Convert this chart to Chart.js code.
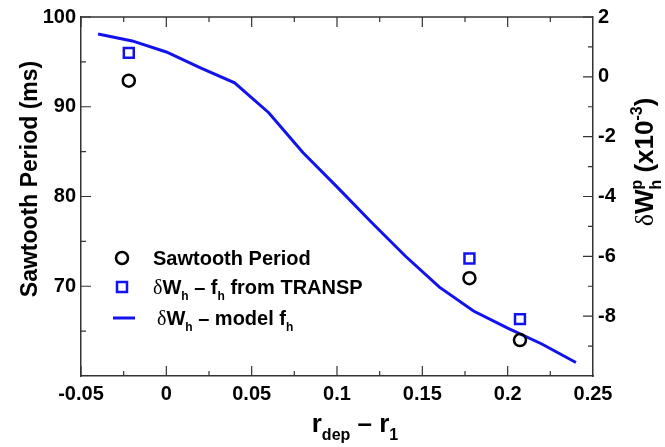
<!DOCTYPE html>
<html>
<head>
<meta charset="utf-8">
<script src="https://cdn.jsdelivr.net/npm/chart.js@4.4.1/dist/chart.umd.min.js"></script>
<style>
  html, body { margin: 0; background: #fff; }
  #wrap { width: 665px; height: 447px; position: relative; }
</style>
</head>
<body>
<div id="wrap"><canvas id="sawtooth"></canvas></div>
<script>
// sawtooth period (left axis) and fast-ion dW term (right axis) vs r_dep - r_1
const sawX = [-0.022, 0.1776, 0.2072];
const sawPeriod = [92.9, 70.9, 64.0];               // ms
const transpX = [-0.022, 0.1776, 0.2072];
const transpDW = [0.8, -6.07, -8.1];                // x10^-3
const modelX = [-0.04, -0.02, 0, 0.02, 0.04, 0.06, 0.08, 0.1, 0.12, 0.14, 0.16, 0.18, 0.2, 0.22, 0.24];
const modelDW = [1.43, 1.2, 0.83, 0.3, -0.2, -1.2, -2.53, -3.68, -4.85, -5.99, -7.03, -7.83, -8.4, -8.93, -9.55];

const xTicks = [-0.05, 0, 0.05, 0.1, 0.15, 0.2, 0.25];
const leftTicks = [70, 80, 90, 100];
const rightTicks = [-8, -6, -4, -2, 0, 2];

const blue = '#1212ee';
const axisCol = '#333';
const family = '"Liberation Sans", Arial, Helvetica, sans-serif';

function fnt(size, weight) {
  return (weight || 'bold') + ' ' + size + 'px ' + family;
}

// parts: [text, kind] kind = n | sub | sup | g (greek) ; 'stack' as 3rd item -> no advance
function richWidth(ctx, parts, size) {
  let w = 0;
  parts.forEach(p => {
    ctx.font = partFont(p[1], size);
    if (!p[2]) w += ctx.measureText(p[0]).width;
  });
  return w;
}
function partFont(kind, size) {
  if (kind === 'sub' || kind === 'sup') return fnt(Math.round(size * 0.62));
  if (kind === 'g') return 'normal ' + size + 'px "Liberation Serif", "Times New Roman", serif';
  return fnt(size);
}
function drawRich(ctx, parts, x, y, size) {
  let cx = x;
  parts.forEach(p => {
    ctx.font = partFont(p[1], size);
    const dy = p[1] === 'sub' ? size * 0.3 : p[1] === 'sup' ? -size * 0.42 : 0;
    ctx.fillText(p[0], cx, y + dy);
    if (!p[2]) cx += ctx.measureText(p[0]).width;
  });
}

const decor = {
  id: 'decor',
  afterDraw(chart) {
    const {ctx, chartArea: a} = chart;
    const sx = chart.scales.x, sy = chart.scales.y, s2 = chart.scales.y2;
    ctx.save();
    ctx.strokeStyle = axisCol;
    ctx.lineWidth = 1.5;
    ctx.beginPath();
    ctx.moveTo(a.left, a.top);
    ctx.lineTo(a.right, a.top);
    ctx.stroke();

    // inward tick marks, major and minor
    ctx.lineWidth = 1.2;
    ctx.beginPath();
    xTicks.forEach(v => {
      [[v, 10], [v + 0.025, 5]].forEach(([t, len]) => {
        if (t >= sx.max - 1e-9) return;
        const px = sx.getPixelForValue(t);
        ctx.moveTo(px, a.bottom); ctx.lineTo(px, a.bottom - len);
        ctx.moveTo(px, a.top); ctx.lineTo(px, a.top + len);
      });
    });
    leftTicks.forEach(v => {
      [[v, 10], [v - 5, 5]].forEach(([t, len]) => {
        if (t <= sy.min) return;
        const py = sy.getPixelForValue(t);
        ctx.moveTo(a.left, py); ctx.lineTo(a.left + len, py);
      });
    });
    rightTicks.forEach(v => {
      [[v, 10], [v - 1, 5]].forEach(([t, len]) => {
        if (t <= s2.min) return;
        const py = s2.getPixelForValue(t);
        ctx.moveTo(a.right, py); ctx.lineTo(a.right - len, py);
      });
    });
    ctx.stroke();

    ctx.fillStyle = '#000';
    ctx.textAlign = 'left';
    ctx.textBaseline = 'alphabetic';

    // axis titles
    const leftTitle = [['Sawtooth Period (ms)', 'n']];
    ctx.save();
    ctx.translate(29, 179);
    ctx.rotate(-Math.PI / 2);
    drawRich(ctx, leftTitle, -richWidth(ctx, leftTitle, 23) / 2, 8, 23);
    ctx.restore();

    const rightTitle = [['δ', 'g'], ['W', 'n'], ['h', 'sub', true], ['p', 'sup'], [' (x10', 'n'], ['-3', 'sup'], [')', 'n']];
    ctx.save();
    ctx.translate(644, 162);
    ctx.rotate(-Math.PI / 2);
    drawRich(ctx, rightTitle, -richWidth(ctx, rightTitle, 26) / 2, 9, 26);
    ctx.restore();

    const xTitle = [['r', 'n'], ['dep', 'sub'], [' – r', 'n'], ['1', 'sub']];
    drawRich(ctx, xTitle, 355 - richWidth(ctx, xTitle, 26) / 2, 432, 26);

    // legend
    ctx.lineWidth = 2.5;
    ctx.strokeStyle = '#000';
    ctx.beginPath();
    ctx.arc(122, 258, 6, 0, Math.PI * 2);
    ctx.stroke();
    ctx.strokeStyle = blue;
    ctx.strokeRect(117, 282, 10, 10);
    ctx.lineWidth = 3;
    ctx.beginPath();
    ctx.moveTo(113, 318); ctx.lineTo(135, 318);
    ctx.stroke();

    drawRich(ctx, [['Sawtooth Period', 'n']], 153, 265, 20);
    drawRich(ctx, [['δ', 'g'], ['W', 'n'], ['h', 'sub'], [' – f', 'n'], ['h', 'sub'], [' from TRANSP', 'n']], 153, 294, 20);
    drawRich(ctx, [['δ', 'g'], ['W', 'n'], ['h', 'sub'], [' – model f', 'n'], ['h', 'sub']], 157, 325, 20);
    ctx.restore();
  }
};

const tickFont = {family: family, size: 20, weight: 'bold'};

new Chart('sawtooth', {
  type: 'scatter',
  data: {
    datasets: [
      {
        label: 'Sawtooth Period',
        data: sawX.map((x, i) => ({x: x, y: sawPeriod[i]})),
        yAxisID: 'y',
        pointStyle: 'circle',
        pointRadius: 6,
        pointBorderWidth: 2.5,
        borderColor: '#000',
        backgroundColor: 'rgba(0,0,0,0)'
      },
      {
        label: 'dW_h - f_h from TRANSP',
        data: transpX.map((x, i) => ({x: x, y: transpDW[i]})),
        yAxisID: 'y2',
        pointStyle: 'rect',
        pointRadius: 7,
        pointBorderWidth: 2.5,
        borderColor: blue,
        backgroundColor: 'rgba(0,0,0,0)'
      },
      {
        type: 'line',
        label: 'dW_h - model f_h',
        data: modelX.map((x, i) => ({x: x, y: modelDW[i]})),
        yAxisID: 'y2',
        borderColor: blue,
        borderWidth: 3,
        pointRadius: 0,
        tension: 0,
        fill: false
      }
    ]
  },
  options: {
    responsive: true,
    maintainAspectRatio: false,
    animation: false,
    layout: {padding: {top: 16, left: 0, right: 0, bottom: 0}},
    plugins: {legend: {display: false}, tooltip: {enabled: false}},
    scales: {
      x: {
        type: 'linear', min: -0.05, max: 0.25,
        afterBuildTicks: s => { s.ticks = xTicks.map(v => ({value: v})); },
        afterFit: s => { s.height = 71; },
        grid: {display: false, drawTicks: false},
        border: {display: true, color: axisCol, width: 1.5},
        ticks: {padding: 6, color: '#000', font: tickFont, maxRotation: 0, autoSkip: false, callback: v => String(v)}
      },
      y: {
        position: 'left', min: 60, max: 100,
        afterBuildTicks: s => { s.ticks = leftTicks.map(v => ({value: v})); },
        afterFit: s => { s.width = 81; },
        grid: {display: false, drawTicks: false},
        border: {display: true, color: axisCol, width: 1.5},
        ticks: {padding: 5, color: '#000', font: tickFont, callback: v => String(v)}
      },
      y2: {
        position: 'right', min: -10, max: 2,
        afterBuildTicks: s => { s.ticks = rightTicks.map(v => ({value: v})); },
        afterFit: s => { s.width = 72; },
        grid: {display: false, drawTicks: false},
        border: {display: true, color: axisCol, width: 1.5},
        ticks: {padding: 5, color: '#000', font: tickFont, callback: v => String(v)}
      }
    }
  },
  plugins: [decor]
});
</script>
</body>
</html>
